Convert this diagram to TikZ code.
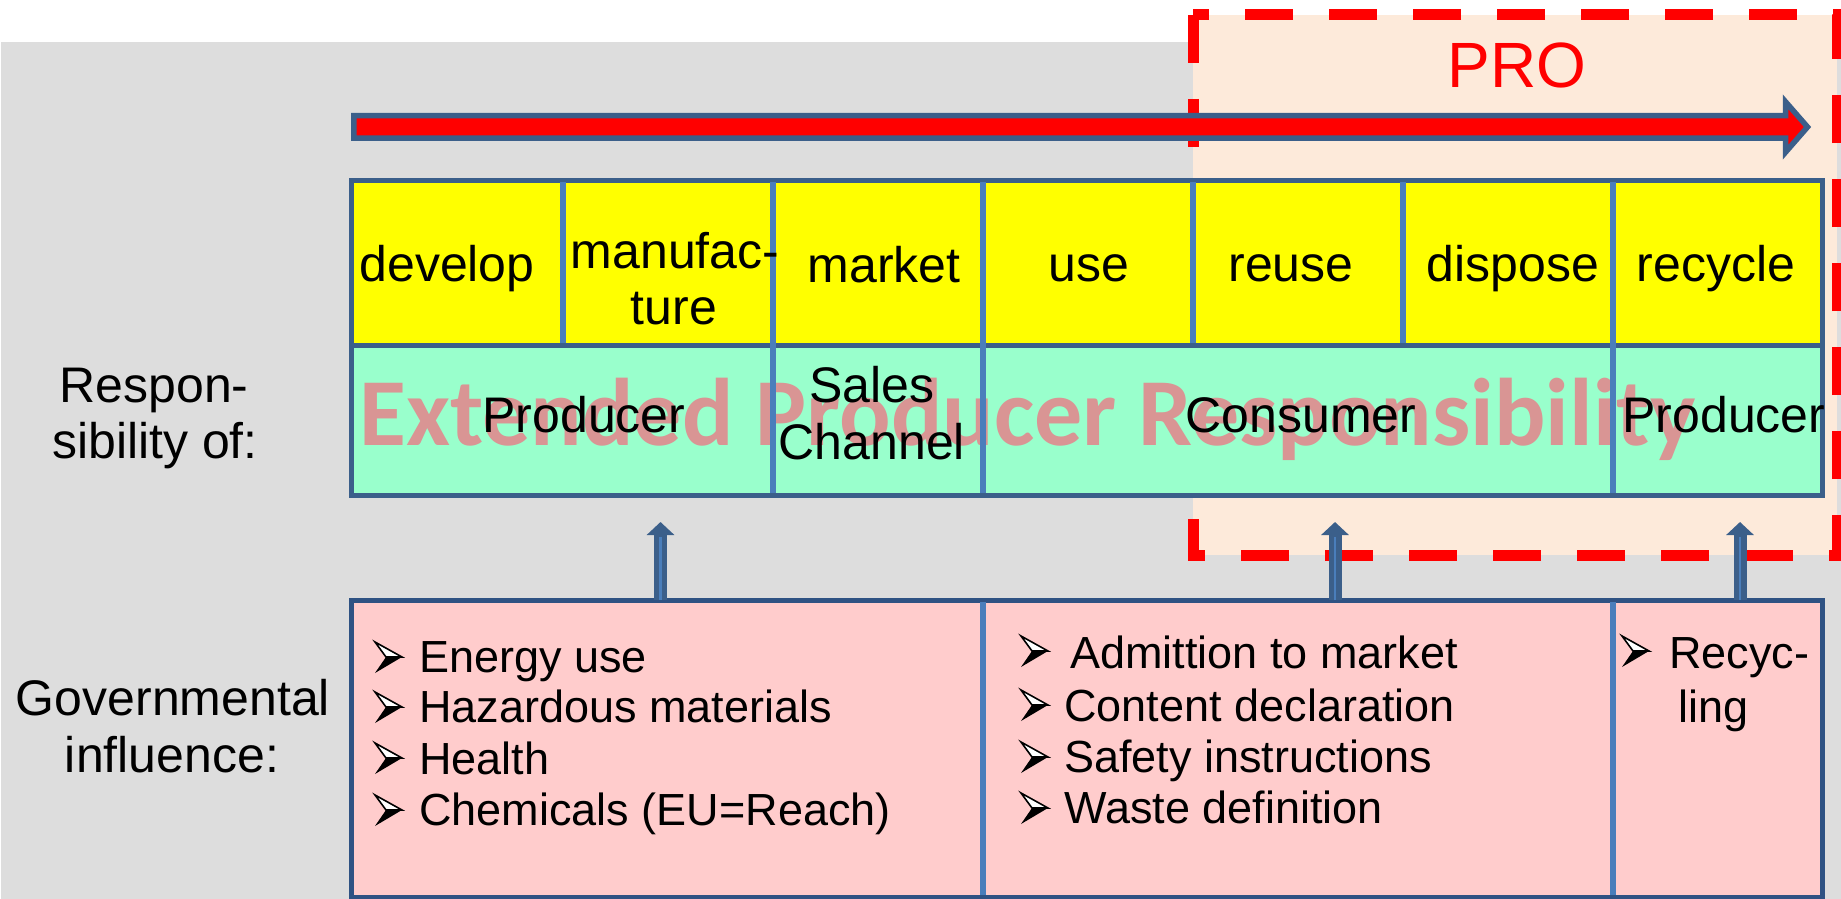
\documentclass[tikz,border=0pt]{standalone}
\usepackage{fontspec}
\setmainfont{Liberation Sans}
\newfontfamily\wmfont{Carlito}
\usetikzlibrary{arrows.meta,calc}
\definecolor{bgray}{HTML}{DDDDDD}
\definecolor{peach}{HTML}{FDEADA}
\definecolor{ylw}{HTML}{FFFF00}
\definecolor{grn}{HTML}{99FFCC}
\definecolor{pnk}{HTML}{FFCCCC}
\definecolor{bdark}{HTML}{3B5F8A}
\definecolor{blight}{HTML}{4A7EBB}
\definecolor{navy}{HTML}{2F5283}
\definecolor{wm}{HTML}{D99594}
\definecolor{pred}{HTML}{FF0000}
\begin{document}
\begin{tikzpicture}[x=0.5pt,y=-0.5pt,
  lbl/.style={anchor=base,inner sep=0pt,font=\fontsize{25}{30}\selectfont},
  blt/.style={anchor=base west,inner sep=0pt,font=\fontsize{22.5}{27}\selectfont},
  border/.style={draw=bdark,line width=2.5pt},
  divider/.style={draw=blight,line width=3pt},
  uparr/.style={draw=bdark,line width=6.5pt,-{Triangle[width=13.5pt,length=6.5pt]}},
  upcore/.style={draw=blight,line width=1.4pt},
  bul/.pic={
    \filldraw[fill=white,draw=black,line width=0.8pt,line join=miter] (0,0) -- (27,15) -- (11,15) -- cycle;
    \fill[black] (11,15) -- (27,15) -- (0,31) -- cycle;
  }]
\useasboundingbox (0,0) rectangle (1841,899);
\fill[white] (0,0) rectangle (1841,899);
\fill[bgray] (1,42) rectangle (1841,899);
% PRO box
\fill[peach] (1193,15) rectangle (1837,555);
\draw[pred,line width=5.5pt,dash pattern=on 24pt off 18pt] (1193,15) rectangle (1837,555);
\node[anchor=base,inner sep=0pt,text=pred,font=\fontsize{32}{38}\selectfont] (pro) at (1517,88) {PRO};
% big arrow
\filldraw[fill=pred,draw=bdark,line width=2.75pt,line join=miter]
  (353.75,115.75) -- (1785.5,115.75) -- (1785.5,101.75) -- (1807.5,127)
  -- (1785.5,152.25) -- (1785.5,138.25) -- (353.75,138.25) -- cycle;
% table fills
\fill[ylw] (351,180) rectangle (1822,345);
\fill[grn] (351,345) rectangle (1822,495);
\node[anchor=base west,inner sep=0pt,text=wm,font=\wmfont\bfseries\fontsize{48}{56}\selectfont] (wmk) at (359,445) {Extended Producer Responsibility};
\draw[border] (351,180) rectangle (1822,345);
\draw[border] (351,345) rectangle (1822,495);
\foreach \x in {563,1193,1403} \draw[divider] (\x,182) -- (\x,343);
\foreach \x in {773,983,1613} \draw[divider] (\x,182) -- (\x,493);
% yellow row
\node[lbl] (tdev) at (447,281) {develop};
\node[lbl] (tman1) at (675,268) {manufac-};
\node[lbl] (tman2) at (674,324) {ture};
\node[lbl] (tmkt) at (884,282) {market};
\node[lbl] (tuse) at (1089,281) {use};
\node[lbl] (treuse) at (1291,281) {reuse};
\node[lbl] (tdisp) at (1513,281) {dispose};
\node[lbl] (trec) at (1716,281) {recycle};
% green row
\node[lbl] (gprod) at (584,432) {Producer};
\node[lbl] (gsales1) at (872,402) {Sales};
\node[lbl] (gsales2) at (872,459) {Channel};
\node[lbl] (gcons) at (1301,432) {Consumer};
\node[lbl] (gprod2) at (1724,432) {Producer};
% left labels
\node[lbl] (lresp1) at (154,402) {Respon-};
\node[lbl] (lresp2) at (155,458) {sibility of:};
\node[lbl] (lgov1) at (173,715) {Governmental};
\node[lbl] (lgov2) at (172,772) {influence:};
% bottom box
\fill[pnk] (351,600) rectangle (1822,899);
\draw[draw=navy,line width=2.5pt] (351,600) rectangle (1822,897);
\foreach \x in {983,1613} \draw[divider] (\x,602) -- (\x,895);
\pic at (375,642) {bul};
\pic at (375,692) {bul};
\pic at (375,743) {bul};
\pic at (375,795) {bul};
\node[blt] (b1) at (419,672) {Energy use};
\node[blt] (b2) at (419,722) {Hazardous materials};
\node[blt] (b3) at (419,774) {Health};
\node[blt] (b4) at (419,825) {Chemicals (EU=Reach)};
\pic at (1021,636) {bul};
\pic at (1021,690) {bul};
\pic at (1021,742) {bul};
\pic at (1021,793) {bul};
\node[blt] (m1) at (1070,668) {Admittion to market};
\node[blt] (m2) at (1064,721) {Content declaration};
\node[blt] (m3) at (1064,772) {Safety instructions};
\node[blt] (m4) at (1064,823) {Waste definition};
\pic at (1622,636) {bul};
\node[blt] (r1) at (1669,668) {Recyc-};
\node[blt] (r2) at (1678,722) {ling};
% up arrows
\coordinate (ua1s) at (660.5,600); \coordinate (ua1e) at (660.5,522);
\coordinate (ua2s) at (1335,600); \coordinate (ua2e) at (1335,522);
\coordinate (ua3s) at (1740,600); \coordinate (ua3e) at (1740,522);
\foreach \a in {ua1,ua2,ua3} {
  \draw[uparr] (\a s) -- (\a e);
  \draw[upcore] (\a s) -- ($(\a e)+(0,15)$);
}
\end{tikzpicture}
\end{document}
